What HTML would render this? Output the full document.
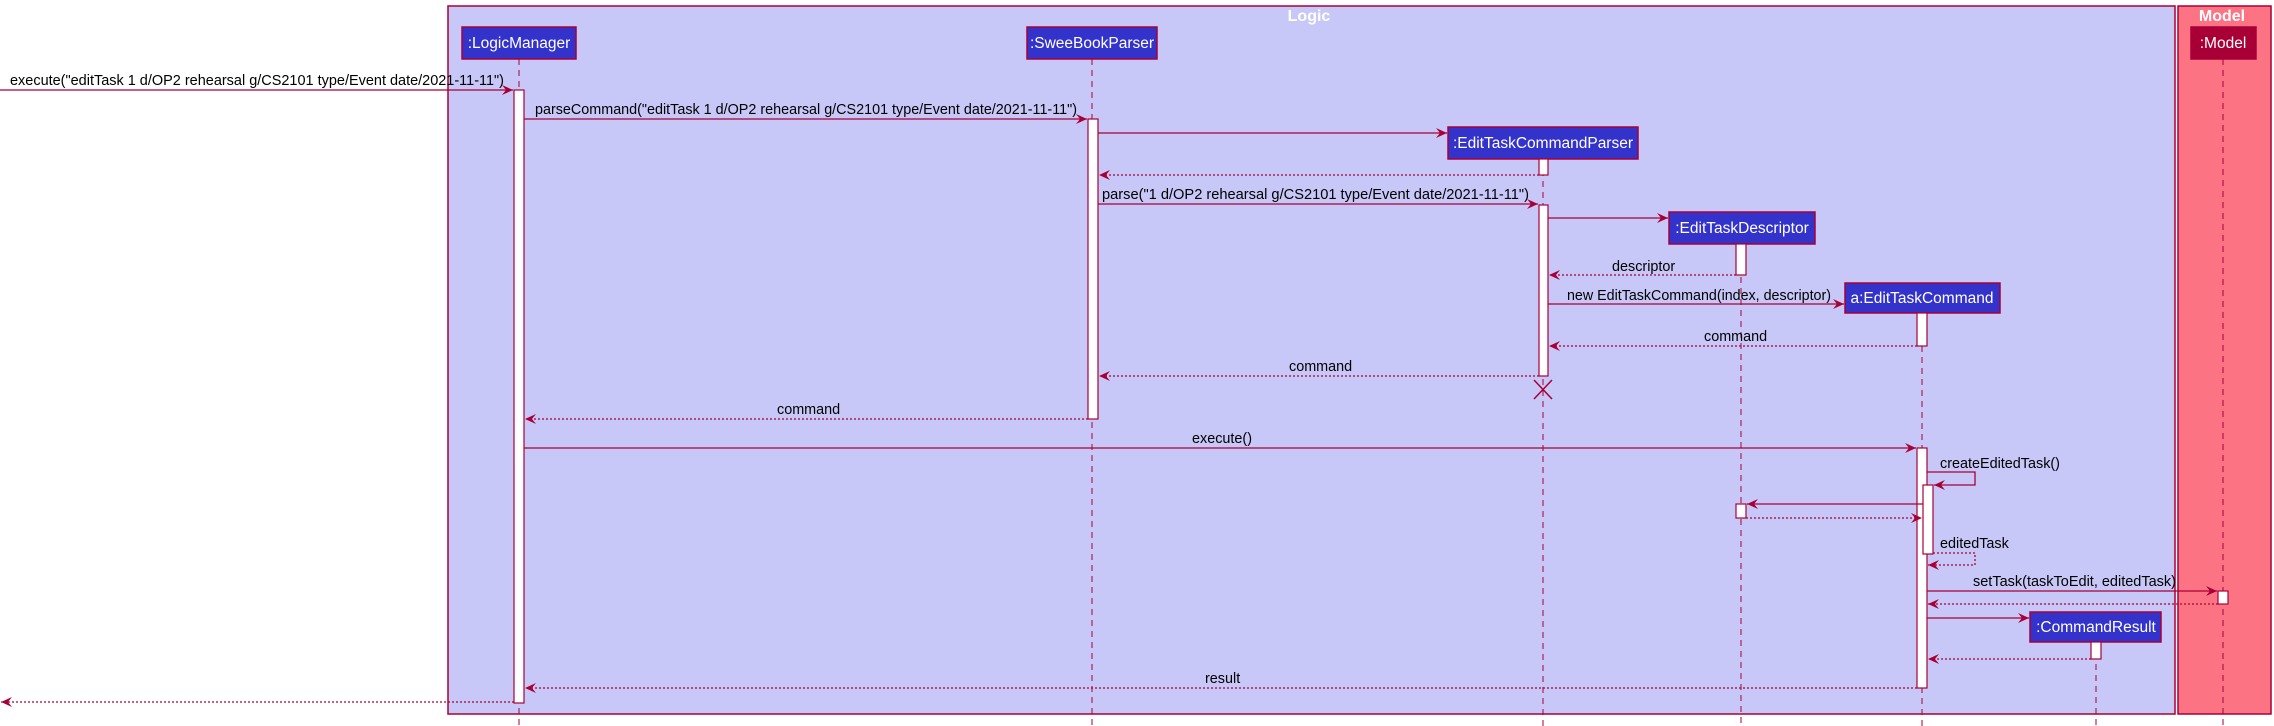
<!DOCTYPE html>
<html><head><meta charset="utf-8"><style>
html,body{margin:0;padding:0;background:#fff;}
svg{display:block;}
text{font-family:"Liberation Sans","DejaVu Sans",sans-serif;font-size:14.4px;fill:#000;}
.t{fill:#fff;font-size:15.5px;}
.h{fill:#fff;font-size:16px;font-weight:bold;}
</style></head><body>
<svg width="2274" height="726" viewBox="0 0 2274 726" xmlns="http://www.w3.org/2000/svg">
<defs>
<marker id="a" markerWidth="12" markerHeight="10" refX="11" refY="5" orient="auto" markerUnits="userSpaceOnUse">
<polygon points="0,0 11,5 0,10 4,5" fill="#a80036"/></marker>
</defs>
<rect x="448" y="6" width="1727" height="708" fill="#c8c8f8" stroke="#a80036" stroke-width="1.5"/>
<rect x="2178" y="6" width="93" height="708" fill="#fc7384" stroke="#a80036" stroke-width="1.5"/>
<text class="h" x="1309" y="21" text-anchor="middle">Logic</text>
<text class="h" x="2222" y="21" text-anchor="middle">Model</text>
<g stroke="#a80036" stroke-width="1" stroke-dasharray="6,5">
<line x1="519" y1="59" x2="519" y2="726"/>
<line x1="1092" y1="59" x2="1092" y2="726"/>
<line x1="1543" y1="159" x2="1543" y2="726"/>
<line x1="1741" y1="244" x2="1741" y2="726"/>
<line x1="1922" y1="313" x2="1922" y2="726"/>
<line x1="2223" y1="59" x2="2223" y2="726"/>
<line x1="2096" y1="642" x2="2096" y2="726"/>
</g>
<g stroke="#a80036" stroke-width="1.5">
<rect x="462" y="27" width="114" height="32" fill="#3333cc"/>
<rect x="1027" y="27" width="130" height="32" fill="#3333cc"/>
<rect x="1448" y="127" width="190" height="32" fill="#3333cc"/>
<rect x="1669" y="212" width="146" height="32" fill="#3333cc"/>
<rect x="1845" y="283" width="155" height="30" fill="#3333cc"/>
<rect x="2191" y="27" width="65" height="32" fill="#a80036"/>
<rect x="2030" y="612" width="131" height="30" fill="#3333cc"/>
</g>
<text class="t" x="519" y="48" text-anchor="middle">:LogicManager</text>
<text class="t" x="1092" y="48" text-anchor="middle">:SweeBookParser</text>
<text class="t" x="1543" y="148" text-anchor="middle">:EditTaskCommandParser</text>
<text class="t" x="1742" y="233" text-anchor="middle">:EditTaskDescriptor</text>
<text class="t" x="1922" y="303" text-anchor="middle">a:EditTaskCommand</text>
<text class="t" x="2223" y="48" text-anchor="middle">:Model</text>
<text class="t" x="2096" y="632" text-anchor="middle">:CommandResult</text>
<g fill="#fff" stroke="#a80036" stroke-width="1.2">
<rect x="514" y="90" width="10" height="613"/>
<rect x="1088" y="119" width="10" height="300"/>
<rect x="1539" y="159" width="9" height="16"/>
<rect x="1539" y="205" width="9" height="171"/>
<rect x="1736" y="244" width="10" height="31"/>
<rect x="1917" y="313" width="10" height="33"/>
<rect x="1917" y="448" width="10" height="240"/>
<rect x="1923" y="485" width="10" height="69"/>
<rect x="1736" y="504" width="10" height="14"/>
<rect x="2218" y="591" width="10" height="13"/>
<rect x="2091" y="642" width="10" height="17"/>
</g>
<g stroke="#a80036" stroke-width="1.5">
<line x1="1534" y1="380" x2="1552" y2="399"/><line x1="1552" y1="380" x2="1534" y2="399"/>
</g>
<g stroke="#a80036" stroke-width="1.3" fill="none" marker-end="url(#a)">
<line x1="0" y1="90" x2="513" y2="90"/>
<line x1="524" y1="119" x2="1087" y2="119"/>
<line x1="1098" y1="133" x2="1447" y2="133"/>
<line x1="1098" y1="204" x2="1538" y2="204"/>
<line x1="1548" y1="218" x2="1668" y2="218"/>
<line x1="1548" y1="304" x2="1844" y2="304"/>
<line x1="524" y1="448" x2="1916" y2="448"/>
<polyline points="1927,472 1975,472 1975,485 1934,485"/>
<line x1="1923" y1="504" x2="1747" y2="504"/>
<line x1="1927" y1="591" x2="2217" y2="591"/>
<line x1="1927" y1="618" x2="2029" y2="618"/>
</g>
<g stroke="#a80036" stroke-width="1.3" fill="none" stroke-dasharray="2,2" marker-end="url(#a)">
<line x1="1539" y1="175" x2="1099" y2="175"/>
<line x1="1736" y1="275" x2="1549" y2="275"/>
<line x1="1917" y1="346" x2="1549" y2="346"/>
<line x1="1539" y1="376" x2="1099" y2="376"/>
<line x1="1088" y1="419" x2="525" y2="419"/>
<line x1="1746" y1="518" x2="1922" y2="518"/>
<polyline points="1933,553 1975,553 1975,565 1928,565"/>
<line x1="2218" y1="604" x2="1928" y2="604"/>
<line x1="2091" y1="659" x2="1928" y2="659"/>
<line x1="1917" y1="688" x2="525" y2="688"/>
<line x1="514" y1="702" x2="1" y2="702"/>
</g>
<text x="10" y="85" textLength="494" lengthAdjust="spacingAndGlyphs">execute("editTask 1 d/OP2 rehearsal g/CS2101 type/Event date/2021-11-11")</text>
<text x="535" y="114" textLength="542" lengthAdjust="spacingAndGlyphs">parseCommand("editTask 1 d/OP2 rehearsal g/CS2101 type/Event date/2021-11-11")</text>
<text x="1102" y="199" textLength="427" lengthAdjust="spacingAndGlyphs">parse("1 d/OP2 rehearsal g/CS2101 type/Event date/2021-11-11")</text>
<text x="1612" y="271">descriptor</text>
<text x="1567" y="300" textLength="264" lengthAdjust="spacingAndGlyphs">new EditTaskCommand(index, descriptor)</text>
<text x="1704" y="341">command</text>
<text x="1289" y="371">command</text>
<text x="777" y="414">command</text>
<text x="1192" y="443">execute()</text>
<text x="1940" y="468">createEditedTask()</text>
<text x="1940" y="548">editedTask</text>
<text x="1973" y="586" textLength="203" lengthAdjust="spacingAndGlyphs">setTask(taskToEdit, editedTask)</text>
<text x="1205" y="683">result</text>
</svg>
</body></html>
